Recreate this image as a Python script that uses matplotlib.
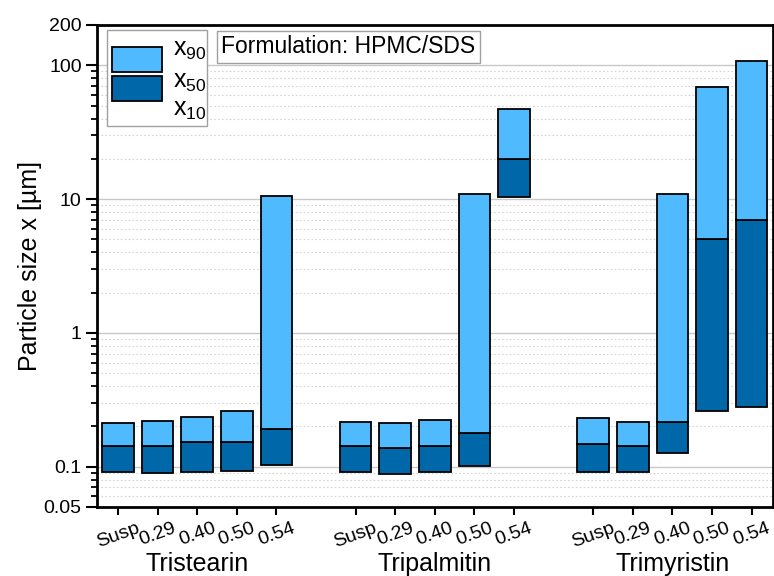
import numpy as np
import matplotlib
matplotlib.use("Agg")
import matplotlib.pyplot as plt
from matplotlib.patches import Rectangle
from matplotlib.ticker import FixedLocator, LogLocator, NullFormatter

plt.rcParams['font.family'] = ['Liberation Sans', 'DejaVu Sans']
plt.rcParams['mathtext.fontset'] = 'custom'
plt.rcParams['mathtext.rm'] = 'Liberation Sans'
plt.rcParams['mathtext.it'] = 'Liberation Sans:italic'

# --- Données ---
lipids = ["Tristearin", "Tripalmitin", "Trimyristin"]
ratios = ["Susp", "0.29", "0.40", "0.50", "0.54"]

x10 = [0.0913, 0.0897, 0.0918, 0.0923, 0.1035,
       0.0906, 0.0882, 0.092, 0.101, 10.3,
       0.092, 0.091, 0.127, 0.262, 0.278]
x50 = [0.1417, 0.144, 0.152, 0.154, 0.191,
       0.1435, 0.139, 0.144, 0.179, 19.8,
       0.148, 0.143, 0.217, 5.0, 6.93]
x90 = [0.212, 0.220, 0.237, 0.262, 10.6,
       0.216, 0.212, 0.224, 11.0, 47.0,
       0.231, 0.217, 10.9, 69.0, 108.0]

y_ticks = [0.05, 0.1, 1, 10, 100, 200]
y_ticklabels = ["0.05", "0.1", "1", "10", "100", "200"]

light = '#4FBAFD'
dark = '#0067A9'

# positions : 5 barres par lipide, un trou entre les groupes
pos = []
for g in range(len(lipids)):
    for i in range(len(ratios)):
        pos.append(g * (len(ratios) + 1) + i)
pos = np.array(pos)
x10 = np.array(x10)
x50 = np.array(x50)
x90 = np.array(x90)

fig = plt.figure(figsize=(7.74, 5.76), dpi=100)
ax = fig.add_axes([0.1253, 0.1198, 0.8734, 0.8368])

w = 0.8
ax.bar(pos, x50 - x10, bottom=x10, width=w, color=dark,
       edgecolor='black', linewidth=1.3, zorder=3)
ax.bar(pos, x90 - x50, bottom=x50, width=w, color=light,
       edgecolor='black', linewidth=1.3, zorder=3)

ax.set_yscale('log')
ax.set_ylim(0.05, 200)
ax.set_xlim(-0.53, 16.54)

# grille
ax.yaxis.set_major_locator(FixedLocator(y_ticks))
ax.set_yticklabels(y_ticklabels)
ax.yaxis.set_minor_locator(LogLocator(base=10, subs=np.arange(2, 10)))
ax.yaxis.set_minor_formatter(NullFormatter())
ax.grid(True, which='major', axis='y', color='#c8c8c8', linewidth=1.0, zorder=0)
ax.grid(True, which='minor', axis='y', color='#d4d4d4', linewidth=0.8,
        linestyle=(0, (1.5, 2)), zorder=0)
ax.set_axisbelow(True)

ax.tick_params(axis='y', which='major', direction='out', length=8, width=1.5,
               labelsize=14, pad=3)
ax.tick_params(axis='y', which='minor', direction='out', length=4.5, width=1.3)
ax.tick_params(axis='x', which='major', direction='out', length=6, width=1.5,
               labelsize=14, pad=3)

ax.set_xticks(pos)
ax.set_xticklabels(ratios * len(lipids), rotation=20, ha='center',
                   rotation_mode='default')

for sp in ax.spines.values():
    sp.set_linewidth(2)

ax.set_ylabel("Particle size x [µm]", fontsize=18, labelpad=1)

# noms des lipides sous les groupes
for g, name in enumerate(lipids):
    xc = g * (len(ratios) + 1) + 2
    ax.text(xc, -0.118, name, transform=ax.get_xaxis_transform(),
            ha='center', va='center', fontsize=18)

# --- légende faite à la main ---
ax.add_patch(Rectangle((0.0148, 0.7905), 0.148, 0.199, transform=ax.transAxes,
                       facecolor='white', edgecolor='#a0a0a0', linewidth=1.0, zorder=5))
ax.add_patch(Rectangle((0.0222, 0.902), 0.074, 0.052, transform=ax.transAxes,
                       facecolor=light, edgecolor='black', linewidth=1.3, zorder=6))
ax.add_patch(Rectangle((0.0222, 0.842), 0.074, 0.052, transform=ax.transAxes,
                       facecolor=dark, edgecolor='black', linewidth=1.3, zorder=6))
for yy, lab in [(0.948, 'x$_{90}$'), (0.882, 'x$_{50}$'), (0.824, 'x$_{10}$')]:
    ax.text(0.112, yy, lab, transform=ax.transAxes, fontsize=18,
            ha='left', va='center', zorder=7)

ax.text(0.372, 0.955, "Formulation: HPMC/SDS", transform=ax.transAxes,
        fontsize=16.5, ha='center', va='center', zorder=7,
        bbox=dict(boxstyle='square,pad=0.2', facecolor='white',
                  edgecolor='#a0a0a0', linewidth=1.0))

fig.savefig("out.png", dpi=100)
